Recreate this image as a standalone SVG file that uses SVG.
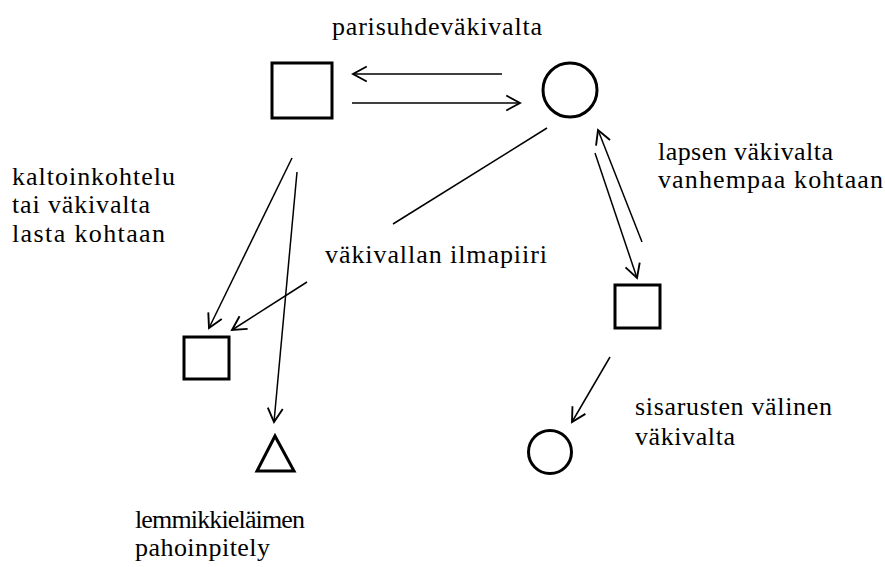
<svg xmlns="http://www.w3.org/2000/svg" width="885" height="567" viewBox="0 0 885 567">
<defs>
<style>
.t{font-family:"Liberation Serif","Times New Roman",serif;font-size:26px;fill:#000}
.n{fill:#fff;stroke:#000;stroke-width:3}
.c{stroke:#000;stroke-width:1.5;fill:none}
</style>
<marker id="a" markerUnits="userSpaceOnUse" markerWidth="20" markerHeight="20" refX="0" refY="0" viewBox="-12 -8 14 16" orient="auto">
<path d="M-11,-6 L0,0 L-11,6" fill="none" stroke="#000" stroke-width="1.5"/>
</marker>
</defs>
<rect width="885" height="567" fill="#fff"/>
<g id="father"><rect class="n" x="272" y="63" width="60" height="55"/></g>
<g id="mother"><circle class="n" cx="570" cy="90" r="27"/></g>
<g id="child1"><rect class="n" x="184" y="337" width="45" height="42"/></g>
<g id="child2"><rect class="n" x="615" y="285" width="45" height="43"/></g>
<g id="child3"><circle class="n" cx="550" cy="452" r="21.5"/></g>
<g id="pet"><polygon class="n" points="275,436 257,471 294,471"/></g>
<g id="connectors">
<line class="c" x1="502" y1="74" x2="353" y2="74" marker-end="url(#a)"/>
<line class="c" x1="352" y1="103" x2="520" y2="103" marker-end="url(#a)"/>
<line class="c" x1="292" y1="158" x2="209" y2="328" marker-end="url(#a)"/>
<line class="c" x1="297" y1="172" x2="274" y2="422" marker-end="url(#a)"/>
<line class="c" x1="307" y1="282" x2="232" y2="330" marker-end="url(#a)"/>
<line class="c" x1="547" y1="128" x2="393" y2="224"/>
<line class="c" x1="642" y1="242" x2="598" y2="130" marker-end="url(#a)"/>
<line class="c" x1="595" y1="153" x2="637" y2="278" marker-end="url(#a)"/>
<line class="c" x1="610" y1="357" x2="572" y2="422" marker-end="url(#a)"/>
</g>
<g id="labels">
<text class="t" x="332" y="35" textLength="210" lengthAdjust="spacing">parisuhdeväkivalta</text>
<text class="t" x="12" y="185" textLength="163" lengthAdjust="spacing">kaltoinkohtelu</text>
<text class="t" x="12" y="213" textLength="138" lengthAdjust="spacing">tai väkivalta</text>
<text class="t" x="12" y="242" textLength="153" lengthAdjust="spacing">lasta kohtaan</text>
<text class="t" x="325" y="263" textLength="222" lengthAdjust="spacing">väkivallan ilmapiiri</text>
<text class="t" x="658" y="160" textLength="175" lengthAdjust="spacing">lapsen väkivalta</text>
<text class="t" x="658" y="188" textLength="225" lengthAdjust="spacing">vanhempaa kohtaan</text>
<text class="t" x="635" y="415" textLength="197" lengthAdjust="spacing">sisarusten välinen</text>
<text class="t" x="635" y="445" textLength="100" lengthAdjust="spacing">väkivalta</text>
<text class="t" x="135" y="528" textLength="170" lengthAdjust="spacing">lemmikkieläimen</text>
<text class="t" x="135" y="556" textLength="135" lengthAdjust="spacing">pahoinpitely</text>
</g>
</svg>
